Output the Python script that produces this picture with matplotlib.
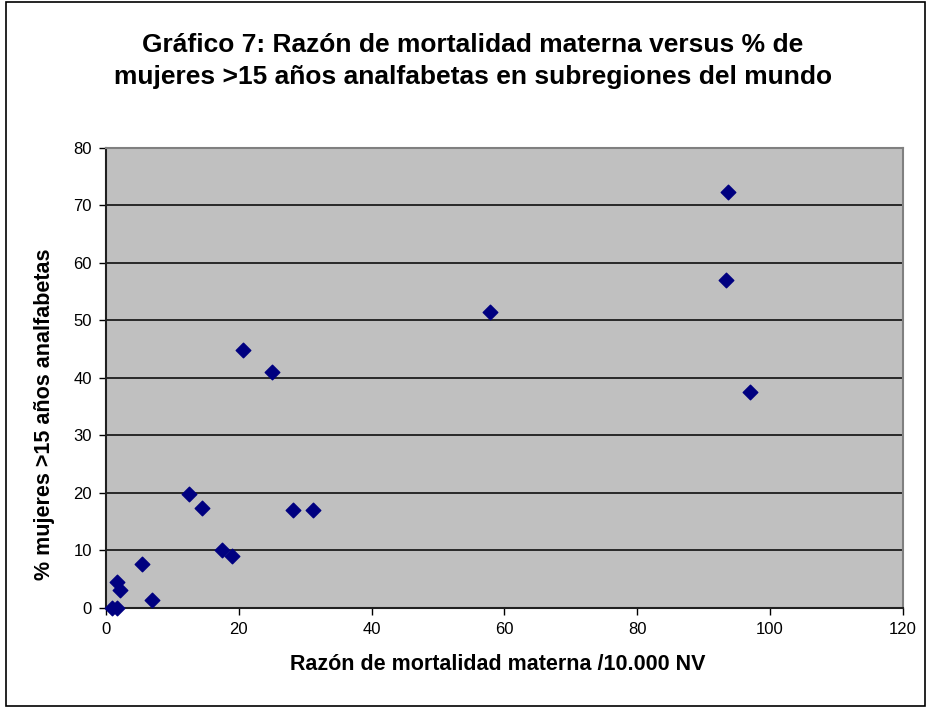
import matplotlib
matplotlib.use("Agg")
import matplotlib.pyplot as plt
from matplotlib.patches import Rectangle

plt.rcParams['font.family'] = ['Liberation Sans', 'DejaVu Sans']

mortality = [0.9, 1.7, 1.7, 2.1, 5.4, 6.9, 12.5, 14.4, 17.4, 19.0, 28.1, 31.1,
             20.7, 25.0, 57.8, 93.6, 93.3, 96.9]
illiterate = [0.0, 0.0, 4.5, 3.0, 7.6, 1.3, 19.8, 17.3, 10.0, 9.0, 17.0, 17.0,
              44.8, 41.0, 51.4, 72.3, 57.0, 37.5]

title = "Gráfico 7: Razón de mortalidad materna versus % de\nmujeres >15 años analfabetas en subregiones del mundo"
xlabel = "Razón de mortalidad materna /10.000 NV"
ylabel = "% mujeres >15 años analfabetas"
xticks = [0, 20, 40, 60, 80, 100, 120]
yticks = [0, 10, 20, 30, 40, 50, 60, 70, 80]

fig = plt.figure(figsize=(9.28, 7.08), dpi=100)
fig.patch.set_facecolor('white')
fig.add_artist(Rectangle((0.006, 0.003), 0.991, 0.994, transform=fig.transFigure,
                         fill=False, edgecolor='black', linewidth=1.2))

ax = fig.add_axes([0.1142, 0.1417, 0.8588, 0.6493])
ax.set_facecolor('#C0C0C0')
ax.set_xlim(0, 120)
ax.set_ylim(0, 80)
ax.set_xticks(xticks)
ax.set_yticks(yticks)
ax.yaxis.grid(True, color='black', linewidth=1.1)
ax.set_axisbelow(True)

ax.scatter(mortality, illiterate, marker='D', s=55, color='#000080', zorder=3, clip_on=False)

for s in ['top', 'right']:
    ax.spines[s].set_color('#808080')
    ax.spines[s].set_linewidth(1.5)
for s in ['left', 'bottom']:
    ax.spines[s].set_color('#202020')
    ax.spines[s].set_linewidth(1.5)

ax.tick_params(axis='both', direction='out', length=5, width=1, color='black',
               labelsize=12, pad=5)

fig.text(498 / 928, 1 - 665 / 708, xlabel, ha='center', va='center',
         fontsize=15.5, fontweight='bold')
fig.text(45 / 928, 1 - 414 / 708, ylabel, ha='center', va='center',
         fontsize=15.5, fontweight='bold', rotation=90)

fig.text(473 / 928, 1 - 61 / 708, title, ha='center', va='center', fontsize=19,
         fontweight='bold', linespacing=1.45)

fig.savefig('out.png', dpi=100)
